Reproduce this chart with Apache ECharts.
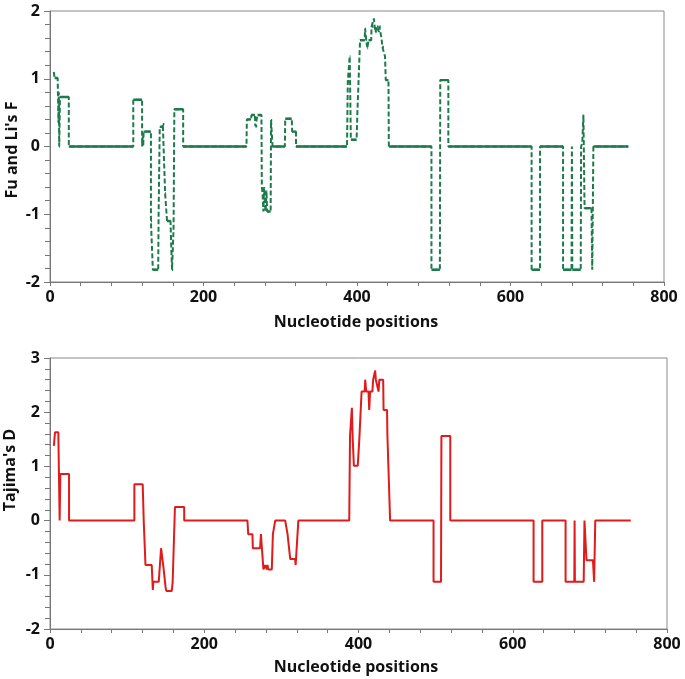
<!DOCTYPE html>
<html>
<head>
<meta charset="utf-8">
<script src="https://cdn.jsdelivr.net/npm/echarts@6/dist/echarts.min.js"></script>
<style>
html,body{margin:0;padding:0;background:#fff;}
#chart{width:685px;height:679px;}
</style>
</head>
<body>
<div id="chart"></div>
<script>
// Fu and Li's F (top panel) – step vertices
var fuLiPos = [5,6,10,11,11.5,12,13,13,24.5,24.5,108.5,108.5,120,120,121,121.5,122,131.5,131.5,133,134,141,141.5,143,147,147,149,150,151,152.5,157,158,159,160.5,161,162,173.5,173.5,256,256.5,262,262.5,267,267.5,270,270.5,275.5,276,277,278,279,280,281,282,283,287.5,288,289.5,290,306,306.5,315,315.5,320.5,320.5,387,388,390,390.5,391.5,392,399.5,400.5,404,410,410.5,411.5,412,413,413.5,414.5,415,418.5,419,421.5,422,423,424,425.5,426,428,428.5,429,431,432,433,435,436.5,437.5,441,441.5,497,497,508,508.5,519,519,627.5,627.5,638.5,638.5,668.5,668.5,679.5,680,680.5,691.5,692,693.5,695,696.5,705.5,706.5,708,753.5];
var fuLiF = [1.10,1.01,1.01,0.35,0.8,0,0,0.73,0.73,0,0,0.69,0.69,0,0.15,0,0.22,0.22,-1.1,-1.1,-1.82,-1.82,-1.0,0.29,0.29,0.33,0.33,-0.69,-0.69,-1.1,-1.1,-1.5,-1.82,-1.82,-1.2,0.55,0.55,0,0,0.40,0.40,0.465,0.465,0.30,0.30,0.465,0.465,-0.59,-0.7,-0.96,-0.6,-0.85,-0.96,-0.65,-0.96,-0.96,0.39,0.39,0,0,0.41,0.41,0.22,0.22,0,0,0.96,0.96,1.33,1.33,0.1,0.1,0.5,1.57,1.57,1.74,1.74,1.57,1.57,1.45,1.45,1.57,1.57,1.77,1.77,1.89,1.77,1.69,1.69,1.77,1.77,1.69,1.77,1.77,1.6,1.47,1.47,1.33,0.98,0.98,0,0,-1.82,-1.82,0.98,0.98,0,0,-1.82,-1.82,0,0,-1.82,-1.82,0,-1.82,-1.82,0,0.05,0.47,-0.91,-0.91,-1.82,0,0];

// Tajima's D (bottom panel)
var tajimaPos = [5,6.5,10.8,12.5,13.4,24.7,24.7,109.4,109.4,120.2,121.5,123,123.8,131.9,133.3,134,141,142,144,146,147,148,150,151,157.8,159,160,162,174,174,256,257,262.5,263,272.4,273.5,274.6,276.7,279,281,282,283,287.6,289,290,292,305,308,310,311.5,317.8,318.5,320,322,388,389,390.5,391.4,392.5,394,399,401,402,404,408,408.7,410,413,413.9,415,418,419,421,421.6,422.5,424,426,427,432,432.5,437,437.5,440,441,497.3,497.3,507,507.5,519,519,627,627,638.3,638.3,668.5,668.5,679.8,680.2,680.6,692,693,694.5,695.6,704,705.5,707,753];
var tajimaD = [1.38,1.63,1.63,0,0.86,0.86,0,0,0.67,0.67,0,0,-0.82,-0.82,-1.28,-1.13,-1.13,-1.1,-0.51,-0.51,-0.85,-0.88,-1.25,-1.3,-1.3,-1.15,-1.15,0.25,0.25,0,0,-0.25,-0.25,-0.51,-0.51,-0.25,-0.25,-0.9,-0.82,-0.9,-0.82,-0.9,-0.9,-0.25,-0.25,0,0,-0.25,-0.25,-0.71,-0.71,-0.82,-0.82,0,0,1.56,1.56,2.08,1.5,1.01,1.01,1.48,1.48,2.38,2.38,2.6,2.38,2.38,2.04,2.38,2.38,2.6,2.6,2.77,2.6,2.6,2.38,2.6,2.6,2.04,2.04,1.56,1.56,0,0,-1.13,-1.13,1.56,1.56,0,0,-1.13,-1.13,0,0,-1.13,-1.13,0,-1.13,-1.13,0,0,-0.73,-0.73,-1.13,0,0];

var xTicks = [0,200,400,600,800];
var fuLiTicks = [-2,-1,0,1,2];
var tajimaTicks = [-2,-1,0,1,2,3];

function pairs(xs, ys){ return xs.map(function(x,i){ return [x, ys[i]]; }); }
// horizontal runs only (drawn solid on top of the dashed trace)
function flatRuns(xs, ys){
  var out = [];
  for (var i = 0; i < xs.length - 1; i++){
    if (ys[i] === ys[i+1] && xs[i+1] > xs[i]){
      out.push([xs[i], ys[i]], [xs[i+1], ys[i+1]], [xs[i+1], null]);
    }
  }
  return out;
}

var FONT = 'Open Sans';
var GREEN = '#1c7a4c';
var RED = '#e01b1b';

function xAxisCfg(idx){
  return {
    gridIndex: idx, type:'value', min: xTicks[0], max: xTicks[xTicks.length-1], interval: 200,
    axisLine:{show:true, onZero:false, lineStyle:{color:'#777', width:1}},
    axisTick:{show:true, length:4, lineStyle:{color:'#777'}},
    minorTick:{show:true, splitNumber:5, length:4, lineStyle:{color:'#777'}},
    splitLine:{show:false},
    axisLabel:{fontFamily:FONT, fontWeight:'bold', fontSize:16, color:'#111', margin:7}
  };
}
function yAxisCfg(idx, ticks){
  return {
    gridIndex: idx, type:'value', min: ticks[0], max: ticks[ticks.length-1], interval: 1,
    axisLine:{show:true, onZero:false, lineStyle:{color:'#777', width:1}},
    axisTick:{show:true, length:6, lineStyle:{color:'#777'}},
    minorTick:{show:true, splitNumber:5, length:5, lineStyle:{color:'#777'}},
    splitLine:{show:false},
    axisLabel:{fontFamily:FONT, fontWeight:'bold', fontSize:16, color:'#111', margin:10}
  };
}

var chart = echarts.init(document.getElementById('chart'), null, {renderer:'canvas'});
chart.setOption({
  backgroundColor:'#fff',
  animation:false,
  grid:[
    {left:50, top:11, width:614, height:271, show:true, borderColor:'#8a8a8a', borderWidth:1},
    {left:50, top:358, width:617, height:271, show:true, borderColor:'#8a8a8a', borderWidth:1}
  ],
  xAxis:[xAxisCfg(0), xAxisCfg(1)],
  yAxis:[yAxisCfg(0, fuLiTicks), yAxisCfg(1, tajimaTicks)],
  series:[
    {type:'line', xAxisIndex:0, yAxisIndex:0, data:pairs(fuLiPos, fuLiF), symbol:'none', z:2,
     lineStyle:{color:GREEN, width:2, type:[5,2.5]}},
    {type:'line', xAxisIndex:0, yAxisIndex:0, data:flatRuns(fuLiPos, fuLiF), symbol:'none', connectNulls:false, z:5,
     lineStyle:{color:GREEN, width:2.4, type:'solid'}},
    {type:'line', xAxisIndex:1, yAxisIndex:1, data:pairs(tajimaPos, tajimaD), symbol:'none',
     lineStyle:{color:RED, width:2}}
  ],
  graphic:[
    {type:'text', x:12, y:150, rotation:Math.PI/2, style:{text:"Fu and Li's F", font:'bold 16px "Open Sans"', fill:'#111', textAlign:'center', textVerticalAlign:'middle'}},
    {type:'text', x:10, y:470, rotation:Math.PI/2, style:{text:"Tajima's D", font:'bold 16px "Open Sans"', fill:'#111', textAlign:'center', textVerticalAlign:'middle'}},
    {type:'text', x:356, y:322, style:{text:'Nucleotide positions', font:'bold 16px "Open Sans"', fill:'#111', textAlign:'center', textVerticalAlign:'middle'}},
    {type:'text', x:356, y:667, style:{text:'Nucleotide positions', font:'bold 16px "Open Sans"', fill:'#111', textAlign:'center', textVerticalAlign:'middle'}}
  ]
});
</script>
</body>
</html>
